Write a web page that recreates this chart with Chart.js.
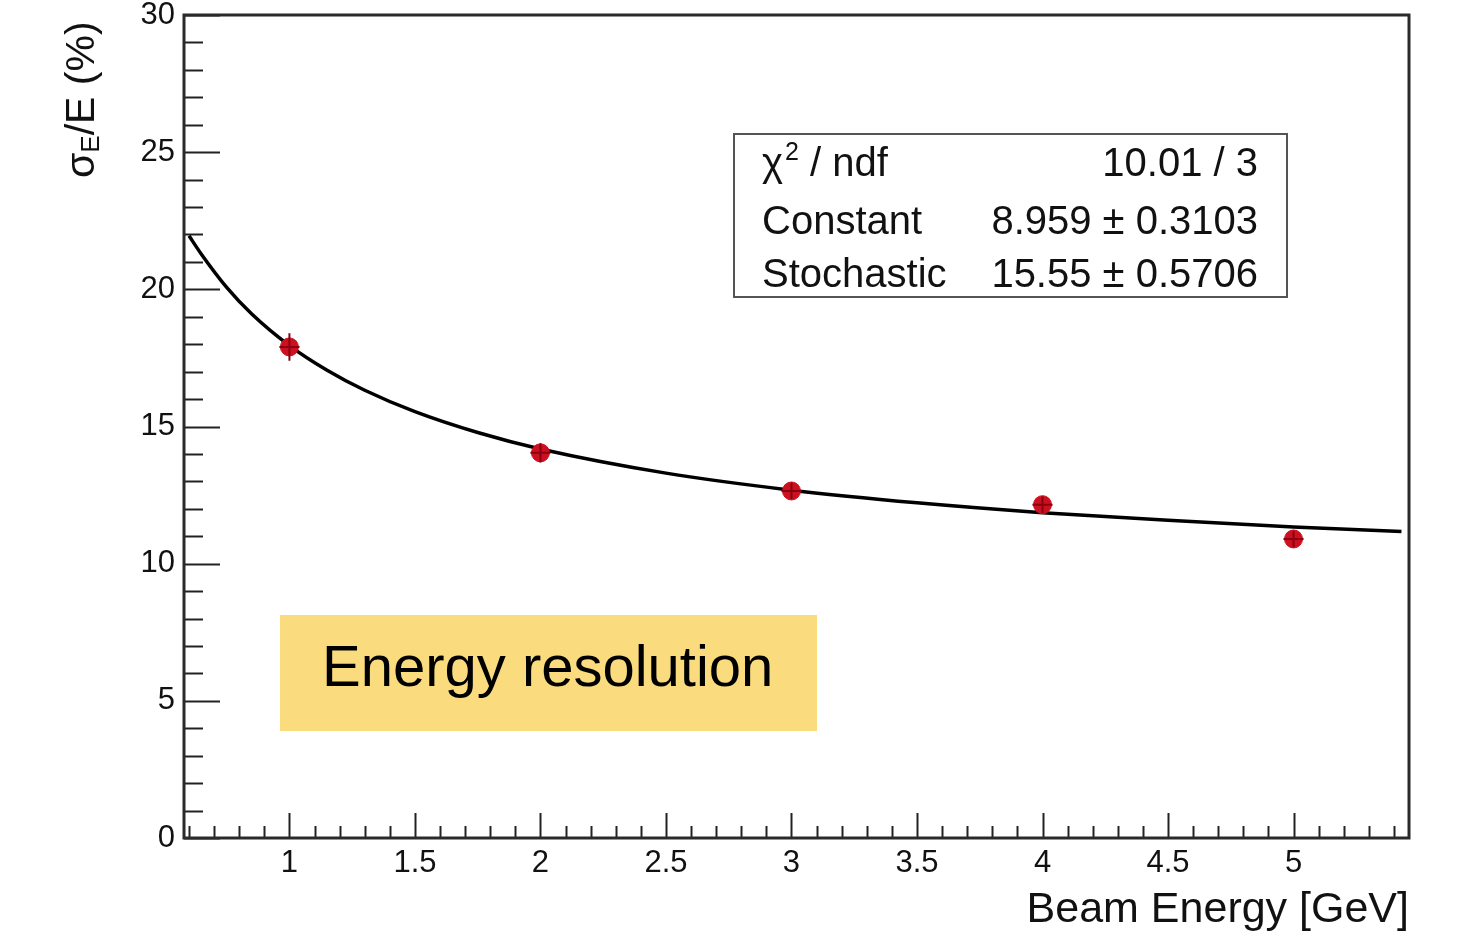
<!DOCTYPE html>
<html>
<head>
<meta charset="utf-8">
<script src="https://cdn.jsdelivr.net/npm/chart.js@4/dist/chart.umd.min.js"></script>
<style>
  html, body { margin: 0; padding: 0; background: #fff; }
  #wrap { width: 1459px; height: 937px; }
</style>
</head>
<body>
<div id="wrap"><canvas id="res-chart"></canvas></div>
<script>
// measured points
const beamEnergy = [1, 2, 3, 4, 5];
const resolution = [17.9, 14.04, 12.65, 12.15, 10.9];
const resErr = [0.5, 0.35, 0.3, 0.3, 0.3];
const energyErr = [0.04, 0.04, 0.04, 0.04, 0.04];

// fit curve
const fitE = [0.6, 0.65, 0.75, 0.85, 1.0, 1.15, 1.3, 1.5, 1.75, 2.0, 2.5, 3.0, 3.5, 4.0, 4.5, 5.0, 5.43];
const fitRes = [21.95, 21.27, 20.07, 19.1, 17.95, 17.05, 16.32, 15.54, 14.78, 14.18, 13.3, 12.68, 12.22, 11.86, 11.58, 11.34, 11.17];

const xTicks = [1, 1.5, 2, 2.5, 3, 3.5, 4, 4.5, 5];
const yTicks = [0, 5, 10, 15, 20, 25, 30];

const statsRows = [
  ['χ2 / ndf', '10.01 / 3'],
  ['Constant', '8.959 ± 0.3103'],
  ['Stochastic', '15.55 ± 0.5706']
];

const FONT = '"Liberation Sans", Arial, Helvetica, sans-serif';

const rootStyle = {
  id: 'rootStyle',
  beforeDatasetsDraw(chart) {
    const ctx = chart.ctx;
    const a = chart.chartArea;
    const xs = chart.scales.x, ys = chart.scales.y;
    ctx.save();
    ctx.strokeStyle = '#222';
    ctx.lineWidth = 2;
    // y ticks, inside
    for (let v = 0; v <= 30; v += 1) {
      const y = Math.round(ys.getPixelForValue(v)) + 0.5;
      const len = v % 5 === 0 ? 36 : 19;
      ctx.beginPath();
      ctx.moveTo(a.left, y);
      ctx.lineTo(a.left + len, y);
      ctx.stroke();
    }
    // x ticks, inside
    for (let i = 6; i <= 54; i++) {
      const v = i / 10;
      const x = Math.round(xs.getPixelForValue(v)) + 0.5;
      if (x < a.left + 2 || x > a.right - 2) continue;
      const len = i % 5 === 0 ? 25 : 12;
      ctx.beginPath();
      ctx.moveTo(x, a.bottom);
      ctx.lineTo(x, a.bottom - len);
      ctx.stroke();
    }
    // frame
    ctx.strokeStyle = '#2a2a2a';
    ctx.lineWidth = 3;
    ctx.strokeRect(a.left, a.top, a.right - a.left, a.bottom - a.top);
    ctx.restore();
  },
  afterDatasetsDraw(chart) {
    const ctx = chart.ctx;
    const xs = chart.scales.x, ys = chart.scales.y;
    ctx.save();
    ctx.strokeStyle = '#8a0010';
    ctx.lineWidth = 2;
    beamEnergy.forEach((e, i) => {
      const x = xs.getPixelForValue(e);
      const y = ys.getPixelForValue(resolution[i]);
      ctx.beginPath();
      ctx.moveTo(x, ys.getPixelForValue(resolution[i] - resErr[i]));
      ctx.lineTo(x, ys.getPixelForValue(resolution[i] + resErr[i]));
      ctx.moveTo(xs.getPixelForValue(e - energyErr[i]), y);
      ctx.lineTo(xs.getPixelForValue(e + energyErr[i]), y);
      ctx.stroke();
    });
    ctx.restore();
  },
  afterDraw(chart) {
    const ctx = chart.ctx;
    ctx.save();

    // stats box
    ctx.fillStyle = '#fff';
    ctx.fillRect(734, 134, 553, 163);
    ctx.strokeStyle = '#555';
    ctx.lineWidth = 2;
    ctx.strokeRect(734, 134, 553, 163);
    ctx.fillStyle = '#111';
    ctx.font = '40px ' + FONT;
    const base = [176, 234, 287];
    statsRows.forEach((row, i) => {
      ctx.textAlign = 'left';
      if (i === 0) {
        ctx.fillText('χ', 762, base[i]);
        const w = ctx.measureText('χ').width;
        ctx.font = '25px ' + FONT;
        ctx.fillText('2', 762 + w + 2, base[i] - 16);
        const w2 = ctx.measureText('2').width;
        ctx.font = '40px ' + FONT;
        ctx.fillText(' / ndf', 762 + w + w2 + 2, base[i]);
      } else {
        ctx.fillText(row[0], 762, base[i]);
      }
      ctx.textAlign = 'right';
      ctx.fillText(row[1], 1258, base[i]);
    });

    // yellow label
    ctx.fillStyle = '#fadb7e';
    ctx.fillRect(280, 615, 537, 116);
    ctx.fillStyle = '#000';
    ctx.textAlign = 'left';
    ctx.font = '58px ' + FONT;
    ctx.fillText('Energy resolution', 322, 686);

    // x title
    ctx.fillStyle = '#111';
    ctx.textAlign = 'right';
    ctx.font = '43px ' + FONT;
    ctx.fillText('Beam Energy [GeV]', 1409, 922);

    // y title, rotated
    ctx.translate(94, 178);
    ctx.rotate(-Math.PI / 2);
    ctx.textAlign = 'left';
    ctx.font = '41px ' + FONT;
    ctx.fillText('σ', 0, 0);
    let off = ctx.measureText('σ').width;
    ctx.font = '26px ' + FONT;
    ctx.fillText('E', off, 5);
    off += ctx.measureText('E').width;
    ctx.font = '41px ' + FONT;
    ctx.fillText('/E (%)', off, 0);
    ctx.restore();
  }
};

new Chart(document.getElementById('res-chart'), {
  type: 'scatter',
  data: {
    datasets: [{
      label: 'fit',
      data: fitE.map((e, i) => ({ x: e, y: fitRes[i] })),
      showLine: true,
      borderColor: '#000',
      borderWidth: 3.5,
      pointRadius: 0,
      cubicInterpolationMode: 'monotone',
      order: 2
    }, {
      label: 'data',
      data: beamEnergy.map((e, i) => ({ x: e, y: resolution[i] })),
      backgroundColor: '#cc1020',
      borderColor: '#cc1020',
      pointRadius: 9,
      order: 1
    }]
  },
  options: {
    responsive: true,
    maintainAspectRatio: false,
    animation: false,
    layout: { padding: { left: 0, right: 50, top: 15, bottom: 0 } },
    plugins: { legend: { display: false }, tooltip: { enabled: false } },
    scales: {
      x: {
        type: 'linear',
        min: 0.58,
        max: 5.46,
        grid: { display: false, drawTicks: false },
        border: { display: false },
        afterBuildTicks: (s) => { s.ticks = xTicks.map(v => ({ value: v })); },
        afterFit: (s) => { s.height = 99; s.paddingLeft = 0; s.paddingRight = 0; },
        ticks: {
          padding: 7,
          color: '#111',
          font: { family: FONT, size: 31 },
          maxRotation: 0,
          callback: (v) => String(v)
        }
      },
      y: {
        min: 0,
        max: 30,
        grid: { display: false, drawTicks: false },
        border: { display: false },
        afterBuildTicks: (s) => { s.ticks = yTicks.map(v => ({ value: v })); },
        afterFit: (s) => { s.width = 184; s.paddingTop = 0; s.paddingBottom = 0; },
        ticks: {
          padding: 9,
          color: '#111',
          font: { family: FONT, size: 31 },
          callback: (v) => String(v)
        }
      }
    }
  },
  plugins: [rootStyle]
});
</script>
</body>
</html>
